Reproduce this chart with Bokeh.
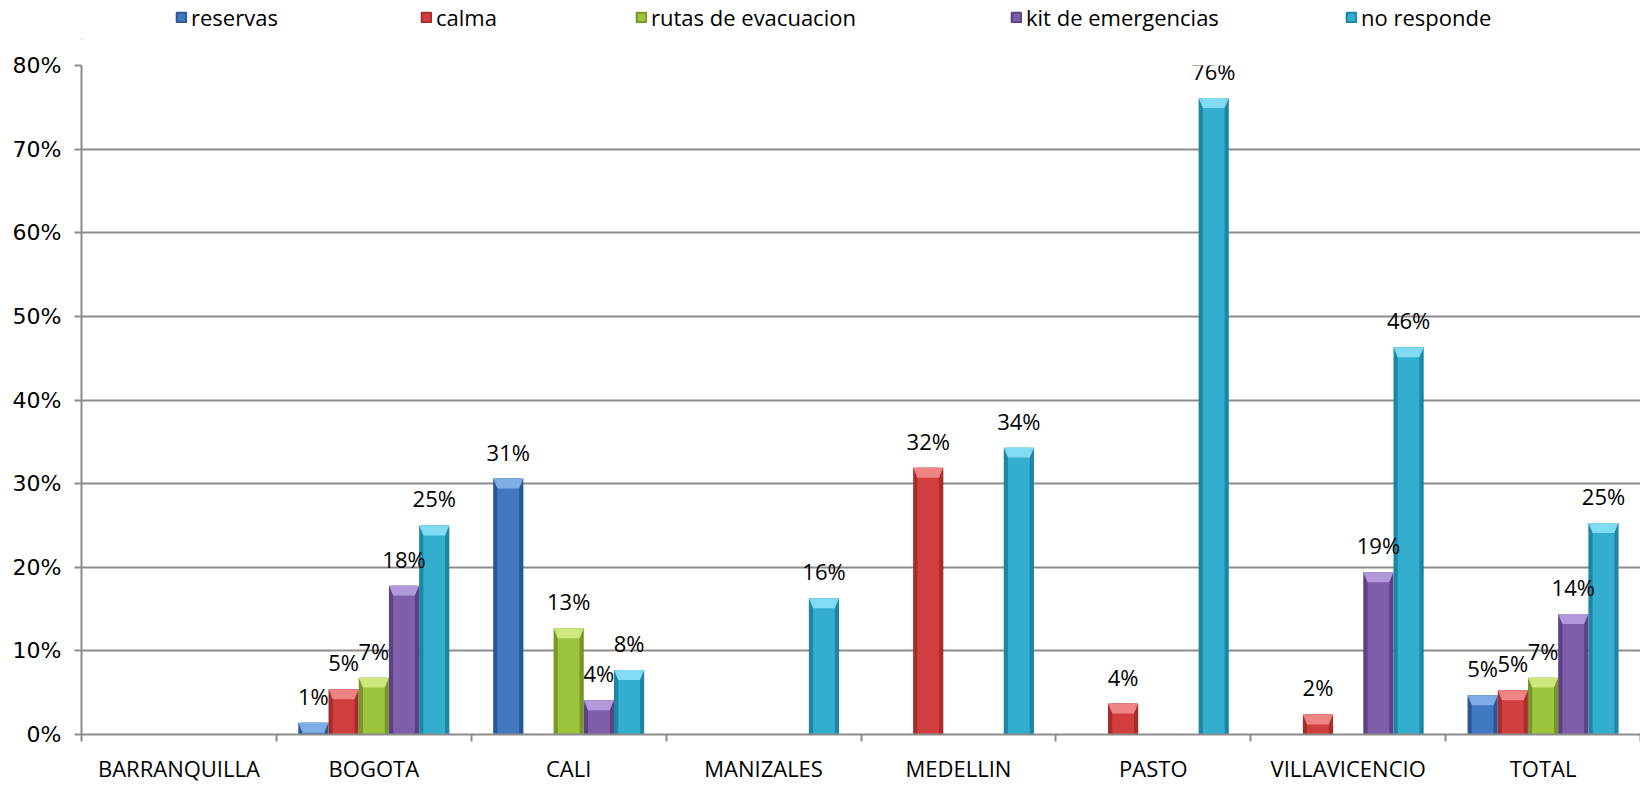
import math
from bokeh.plotting import figure
from bokeh.layouts import column
from bokeh.models import (Range1d, FixedTicker, CustomJSTickFormatter, NumeralTickFormatter,
                          LabelSet, ColumnDataSource, Legend, LegendItem)
from bokeh.core.properties import value
from bokeh.embed import file_html
from bokeh.resources import INLINE

cities = ["BARRANQUILLA", "BOGOTA", "CALI", "MANIZALES", "MEDELLIN", "PASTO", "VILLAVICENCIO", "TOTAL"]
series = ["reservas", "calma", "rutas de evacuacion", "kit de emergencias", "no responde"]
nan = float("nan")
reservas = [nan, 0.014, 0.306, nan, nan, nan, nan, 0.047]
calma = [nan, 0.054, nan, nan, 0.319, 0.037, 0.024, 0.053]
rutas = [nan, 0.068, 0.127, nan, nan, nan, nan, 0.068]
kit = [nan, 0.178, 0.041, nan, nan, nan, 0.194, 0.144]
no_responde = [nan, 0.250, 0.077, 0.163, 0.343, 0.761, 0.463, 0.253]
values = [reservas, calma, rutas, kit, no_responde]

edge_cols = ["#2b5796", "#a82c2c", "#78982a", "#5c4285", "#1d86a4"]
main_cols = ["#4079c0", "#d03e3e", "#9dc43d", "#7e5ea9", "#34aecf"]
light_cols = ["#86b3ea", "#f28c8c", "#d3ec85", "#b8a0e0", "#8ae0f5"]

FONT = "Open Sans"
W = 1640
LEG_H = 40
H = 785 - LEG_H

# ---- legend strip ----
lf = figure(width=W, height=LEG_H, output_backend="svg", toolbar_location=None,
            x_range=Range1d(0, 1), y_range=Range1d(0, 1),
            min_border_left=0, min_border_right=0, min_border_top=0, min_border_bottom=0,
            x_axis_type=None, y_axis_type=None)
lf.outline_line_color = None
lf.xgrid.visible = False
lf.ygrid.visible = False
leg_x = [94, 339, 554, 929, 1264]
for j, name in enumerate(series):
    dummy = lf.vbar(x=[-5], top=[0], width=0.1, fill_color=main_cols[j], line_color=edge_cols[j],
                    line_width=2)
    leg = Legend(items=[LegendItem(label=name, renderers=[dummy])],
                 location=(leg_x[j], 8), orientation="horizontal",
                 padding=0, margin=0, spacing=0, border_line_alpha=0,
                 background_fill_alpha=0, glyph_width=12, glyph_height=12,
                 label_standoff=4, label_text_font=FONT, label_text_font_size="22px",
                 label_text_color="black")
    lf.add_layout(leg, "center")

# ---- main chart ----
p = figure(width=W, height=H, output_backend="svg", toolbar_location=None,
           x_range=Range1d(0, 8), y_range=Range1d(0, 0.8),
           min_border_left=81, min_border_top=65 - LEG_H, min_border_bottom=46, min_border_right=0)
p.outline_line_color = None
p.background_fill_color = "white"

bw = 0.155
bevel = 10 / 672 * 0.8

label_x, label_y, label_t = [], [], []
for j, (name, vals) in enumerate(zip(series, values)):
    xs, tops = [], []
    for i, v in enumerate(vals):
        if v is None or (isinstance(v, float) and math.isnan(v)):
            continue
        xs.append(i + 0.5 + (j - 2) * bw)
        tops.append(v)
    src = ColumnDataSource(dict(x=xs, top=tops))
    p.vbar(x="x", top="top", bottom=0, width=bw, source=src,
           fill_color=edge_cols[j], line_color=None)
    p.vbar(x="x", top="top", bottom=0, width=bw * 0.72, source=src,
           fill_color=main_cols[j], line_color=None)
    bx, by = [], []
    for x, t in zip(xs, tops):
        h = min(bevel, t)
        bx.append([x - bw / 2, x + bw / 2, x + bw * 0.36, x - bw * 0.36])
        by.append([t, t, t - h, t - h])
    p.patches(bx, by, fill_color=light_cols[j], line_color=None, fill_alpha=0.9)
    for x, t in zip(xs, tops):
        label_x.append(x)
        label_y.append(t)
        label_t.append(f"{round(t * 100):d}%")

lsrc = ColumnDataSource(dict(x=label_x, y=label_y, t=label_t))
labels = LabelSet(x="x", y="y", text="t", source=lsrc, text_align="center",
                  text_baseline="alphabetic", y_offset=18, text_font=value(FONT),
                  text_font_size="22px", text_color="black")
p.add_layout(labels)

p.xaxis.ticker = FixedTicker(ticks=[i + 0.5 for i in range(8)], minor_ticks=list(range(9)))
p.xaxis.formatter = CustomJSTickFormatter(args=dict(labels=cities),
                                          code="return labels[Math.floor(tick)] || '';")
p.xaxis.major_tick_out = 0
p.xaxis.major_tick_in = 0
p.xaxis.minor_tick_out = 7
p.xaxis.minor_tick_in = 0
p.xaxis.minor_tick_line_color = "#8c8c8c"
p.xaxis.minor_tick_line_width = 2
p.xaxis.axis_line_color = "#8c8c8c"
p.xaxis.axis_line_width = 2
p.xaxis.major_label_text_font = FONT
p.xaxis.major_label_text_font_size = "22px"
p.xaxis.major_label_text_color = "black"
p.xaxis.major_label_standoff = 11

p.yaxis.ticker = FixedTicker(ticks=[i / 10 for i in range(9)])
p.yaxis.formatter = NumeralTickFormatter(format="0%")
p.yaxis.major_tick_out = 7
p.yaxis.major_tick_in = 0
p.yaxis.minor_tick_line_color = None
p.yaxis.major_tick_line_color = "#8c8c8c"
p.yaxis.major_tick_line_width = 2
p.yaxis.axis_line_color = "#8c8c8c"
p.yaxis.axis_line_width = 2
p.yaxis.major_label_text_font = "DejaVu Sans"
p.yaxis.major_label_text_font_size = "22px"
p.yaxis.major_label_text_color = "black"
p.yaxis.major_label_standoff = 13

p.xgrid.grid_line_color = None
p.ygrid.grid_line_color = "#8c8c8c"
p.ygrid.grid_line_width = 2

layout = column(lf, p, spacing=0)
open("out.html", "w").write(file_html(layout, INLINE))
